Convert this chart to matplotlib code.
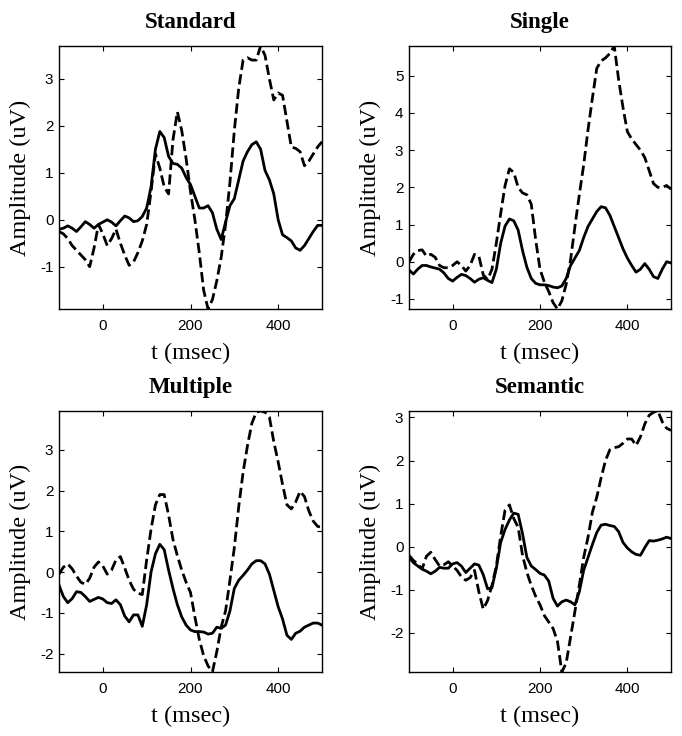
import numpy as np
import matplotlib
matplotlib.use('Agg')
import matplotlib.pyplot as plt

# ------------------------------------------
# Data (10 ms steps)
# ------------------------------------------
t = np.arange(-100, 510, 10)

titles = ['Standard', 'Single', 'Multiple', 'Semantic']

standard_solid = [
    -0.20, -0.18, -0.13, -0.18, -0.25, -0.15, -0.04, -0.10, -0.18, -0.10,
    -0.05, 0.00, -0.05, -0.13, -0.02, 0.08, 0.04, -0.04, -0.02, 0.07,
    0.25, 0.70, 1.50, 1.88, 1.75, 1.35, 1.20, 1.18, 1.10, 0.90,
    0.75, 0.50, 0.25, 0.25, 0.30, 0.15, -0.20, -0.42, -0.05, 0.30,
    0.45, 0.85, 1.25, 1.45, 1.60, 1.66, 1.50, 1.05, 0.85, 0.55,
    0.00, -0.32, -0.38, -0.45, -0.60, -0.65, -0.55, -0.40, -0.25, -0.12,
    -0.12]
standard_dashed = [
    -0.25, -0.30, -0.40, -0.55, -0.65, -0.75, -0.85, -1.00, -0.60, -0.10,
    -0.30, -0.55, -0.40, -0.20, -0.50, -0.75, -0.97, -0.90, -0.70, -0.45,
    -0.10, 0.60, 1.40, 1.10, 0.70, 0.55, 1.70, 2.30, 1.90, 1.30,
    0.60, 0.00, -0.70, -1.50, -1.90, -1.70, -1.30, -0.80, -0.10, 0.80,
    1.90, 2.80, 3.40, 3.45, 3.40, 3.40, 3.70, 3.50, 3.00, 2.55,
    2.70, 2.65, 2.10, 1.55, 1.52, 1.45, 1.15, 1.25, 1.40, 1.55,
    1.66]

single_solid = [
    -0.22, -0.33, -0.20, -0.10, -0.10, -0.14, -0.17, -0.20, -0.30, -0.45,
    -0.52, -0.42, -0.34, -0.37, -0.45, -0.55, -0.47, -0.43, -0.50, -0.56,
    -0.20, 0.50, 0.96, 1.15, 1.10, 0.85, 0.30, -0.15, -0.45, -0.58,
    -0.62, -0.62, -0.64, -0.68, -0.70, -0.65, -0.45, -0.10, 0.10, 0.30,
    0.65, 0.95, 1.15, 1.35, 1.48, 1.45, 1.25, 0.95, 0.65, 0.35,
    0.10, -0.10, -0.28, -0.20, -0.05, -0.20, -0.40, -0.45, -0.20, 0.00,
    -0.03]
single_dashed = [
    0.00, 0.20, 0.30, 0.32, 0.15, 0.20, 0.12, -0.10, -0.16, -0.16,
    -0.10, 0.00, -0.10, -0.25, -0.10, 0.20, 0.15, -0.35, -0.48, -0.20,
    0.50, 1.30, 2.05, 2.50, 2.40, 2.00, 1.85, 1.80, 1.55, 0.60,
    -0.20, -0.55, -0.80, -1.10, -1.27, -1.05, -0.60, 0.05, 0.95, 1.80,
    2.60, 3.55, 4.40, 5.20, 5.40, 5.48, 5.60, 5.80, 4.90, 4.15,
    3.50, 3.30, 3.15, 3.00, 2.80, 2.45, 2.10, 2.00, 2.00, 2.05,
    1.95]

multiple_solid = [
    -0.32, -0.60, -0.75, -0.65, -0.48, -0.50, -0.60, -0.72, -0.67, -0.62,
    -0.66, -0.75, -0.77, -0.68, -0.80, -1.08, -1.22, -1.05, -1.05, -1.33,
    -0.80, 0.00, 0.45, 0.68, 0.55, 0.05, -0.40, -0.80, -1.10, -1.30,
    -1.42, -1.46, -1.46, -1.47, -1.52, -1.50, -1.35, -1.38, -1.30, -0.95,
    -0.40, -0.20, -0.08, 0.05, 0.20, 0.28, 0.28, 0.20, -0.05, -0.45,
    -0.85, -1.15, -1.55, -1.65, -1.50, -1.45, -1.35, -1.30, -1.25, -1.25,
    -1.30]
multiple_dashed = [
    -0.05, 0.12, 0.20, 0.08, -0.10, -0.25, -0.30, -0.15, 0.12, 0.25,
    0.15, -0.05, 0.05, 0.30, 0.38, 0.10, -0.20, -0.42, -0.52, -0.55,
    0.30, 1.05, 1.65, 1.90, 1.90, 1.40, 0.80, 0.40, 0.05, -0.25,
    -0.50, -1.10, -1.65, -2.05, -2.30, -2.45, -1.95, -1.35, -0.95, -0.20,
    0.60, 1.60, 2.45, 3.10, 3.65, 3.92, 3.95, 3.92, 3.80, 3.20,
    2.70, 2.15, 1.65, 1.55, 1.72, 1.98, 1.85, 1.50, 1.25, 1.12,
    1.10]

semantic_solid = [
    -0.25, -0.37, -0.45, -0.52, -0.57, -0.63, -0.57, -0.48, -0.50, -0.50,
    -0.40, -0.37, -0.45, -0.60, -0.50, -0.40, -0.43, -0.65, -0.98, -0.95,
    -0.50, 0.10, 0.40, 0.62, 0.78, 0.75, 0.30, -0.25, -0.45, -0.53,
    -0.62, -0.66, -0.80, -1.20, -1.38, -1.28, -1.24, -1.28, -1.35, -1.05,
    -0.55, -0.25, 0.05, 0.33, 0.50, 0.52, 0.49, 0.47, 0.35, 0.10,
    -0.03, -0.12, -0.18, -0.20, -0.02, 0.14, 0.13, 0.15, 0.18, 0.22,
    0.19]
semantic_dashed = [
    -0.20, -0.32, -0.40, -0.52, -0.22, -0.13, -0.30, -0.45, -0.42, -0.35,
    -0.45, -0.55, -0.70, -0.78, -0.72, -0.55, -1.05, -1.45, -1.25, -0.90,
    -0.45, 0.25, 0.85, 0.97, 0.65, 0.45, -0.20, -0.60, -0.90, -1.15,
    -1.35, -1.60, -1.75, -1.90, -2.20, -2.91, -2.70, -2.10, -1.50, -0.90,
    -0.25, 0.22, 0.80, 1.15, 1.60, 2.00, 2.25, 2.30, 2.32, 2.40,
    2.50, 2.50, 2.35, 2.55, 2.85, 3.05, 3.12, 3.15, 2.90, 2.75,
    2.70]

solids = [standard_solid, single_solid, multiple_solid, semantic_solid]
dashes = [standard_dashed, single_dashed, multiple_dashed, semantic_dashed]
yticks = [[-1, 0, 1, 2, 3], [-1, 0, 1, 2, 3, 4, 5],
          [-2, -1, 0, 1, 2, 3], [-2, -1, 0, 1, 2, 3]]
xticks = [0, 200, 400]

# ------------------------------------------
# Style
# ------------------------------------------
plt.rcParams.update({
    'axes.unicode_minus': False,
    'axes.linewidth': 1.0,
    'xtick.direction': 'in',
    'ytick.direction': 'in',
    'xtick.top': True,
    'ytick.right': True,
    'xtick.major.size': 3.5,
    'ytick.major.size': 3.5,
})
serif = 'Liberation Serif'
sans = 'Liberation Sans'

fig = plt.figure(figsize=(6.82, 7.36), dpi=100)
W, H = 682.0, 736.0
# axes boxes in pixels: left, top, right, bottom
boxes = [(59, 46, 322, 309), (409, 46, 671, 309),
         (59, 411, 322, 672), (409, 411, 671, 672)]

for i in range(4):
    l, tp, r, b = boxes[i]
    ax = fig.add_axes([l / W, 1 - b / H, (r - l) / W, (b - tp) / H])
    ax.plot(t, solids[i], color='black', linewidth=2.0, linestyle='-')
    ax.plot(t, dashes[i], color='black', linewidth=2.0, linestyle='--')

    ymin = min(min(solids[i]), min(dashes[i]))
    ymax = max(max(solids[i]), max(dashes[i]))
    ax.set_xlim(-100, 500)
    ax.set_ylim(ymin, ymax)
    ax.set_xticks(xticks)
    ax.set_yticks(yticks[i])
    for lab in ax.get_xticklabels() + ax.get_yticklabels():
        lab.set_fontfamily(sans)
        lab.set_fontsize(11)
    ax.tick_params(axis='x', pad=7)
    ax.tick_params(axis='y', pad=4)

    ax.set_title(titles[i], fontfamily=serif, fontsize=16.5,
                 fontweight='bold', pad=13)
    ax.set_xlabel('t (msec)', fontfamily=serif, fontsize=17.5)
    ax.set_ylabel('Amplitude (uV)', fontfamily=serif, fontsize=17.5)
    ax.xaxis.set_label_coords(0.5, -0.13)
    ax.yaxis.set_label_coords(-0.105, 0.5)

fig.savefig('out.png', dpi=100, facecolor='white')
